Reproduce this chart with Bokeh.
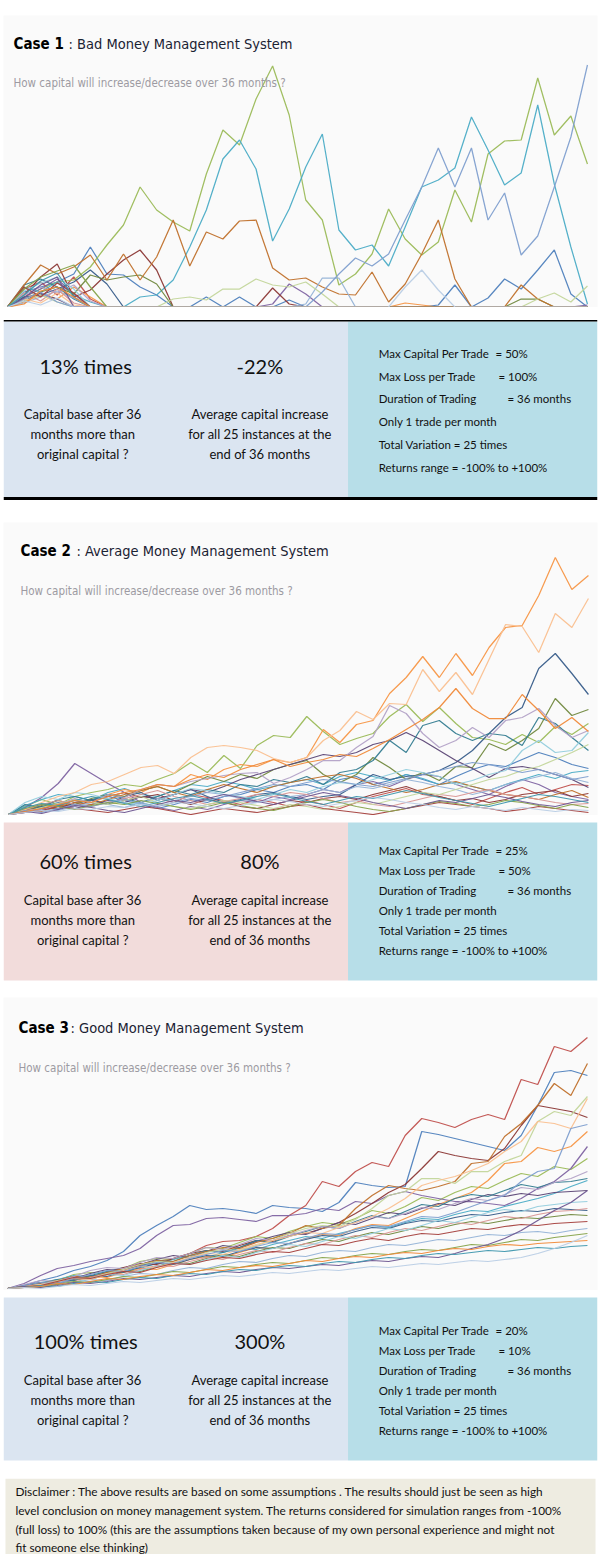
from bokeh.plotting import figure
from bokeh.layouts import column
from bokeh.models import Range1d, Spacer, ColumnDataSource
from bokeh.core.properties import value
from bokeh.embed import file_html
from bokeh.resources import INLINE

# ---------------- data ----------------
months = list(range(1, 37))

colors = ["#4f81bd", "#c0504d", "#9bbb59", "#8064a2", "#4bacc6", "#f79646",
          "#385d8a", "#8c3836", "#71893f", "#5c4776", "#357d91", "#c0712c",
          "#95b3d7", "#d99694", "#c3d69b", "#b3a2c7", "#93cddd", "#fac090",
          "#7f9fcf", "#a5403d", "#86a34a", "#6e5691", "#3f97ae", "#f08a3a", "#b9cde5"]

# Case 1 : capital paths (height above starting level, chart units)
case1_runs = [
    [0,15,20,25,33,60,33,32,20,12,0,0,10,0,10,0,0,7,0,0,0,0,0,0,0,0,2,22,0,9,28,18,37,57,13,0],
    [0,18,25,12,30,8,0,0,0,0,0,0,0,0,0,0,0,0,0,0,0,0,0,0,0,0,0,0,0,0,0,0,0,0,0,0],
    [0,10,18,25,27,40,62,82,120,97,85,76,133,177,162,208,241,192,107,87,22,33,53,98,68,52,65,117,85,153,166,167,229,172,191,143],
    [0,10,18,28,13,0,0,0,0,0,0,0,0,0,0,0,3,23,13,0,0,0,0,0,0,0,0,0,0,0,0,0,0,0,0,2],
    [0,20,15,25,12,5,0,0,10,12,27,60,97,148,167,138,66,98,140,173,77,57,62,41,80,120,127,139,190,157,122,134,202,123,60,3],
    [0,5,12,8,20,10,0,0,0,0,0,0,0,0,0,0,0,0,0,0,0,0,0,0,4,2,0,0,0,0,0,0,0,0,0,0],
    [0,10,12,18,25,37,23,0,0,0,0,0,0,0,0,0,0,0,0,0,0,0,0,0,0,0,0,0,0,0,0,0,0,0,0,0],
    [0,12,30,43,10,17,33,47,57,37,0,0,0,0,0,0,19,3,0,0,0,0,0,0,0,0,0,0,0,0,0,0,0,0,0,0],
    [0,8,15,20,13,32,27,30,32,23,0,0,0,0,0,0,0,0,0,0,0,0,0,0,0,0,0,0,0,0,0,8,8,0,0,0],
    [0,6,14,8,0,0,0,0,0,0,0,0,0,0,0,0,0,0,0,0,0,0,0,0,0,0,0,0,0,0,0,0,0,0,0,0],
    [0,22,28,20,8,0,0,0,0,0,0,0,0,0,0,0,0,0,0,0,0,0,0,0,0,0,0,0,0,0,0,0,0,0,0,0],
    [0,22,42,33,40,52,27,53,27,50,87,41,75,68,86,87,39,27,29,20,13,12,35,5,23,53,87,28,0,0,0,22,8,0,0,0],
    [0,4,10,16,9,0,0,0,0,0,0,0,0,0,0,0,0,0,3,29,29,0,0,0,0,0,0,0,0,0,0,0,0,0,0,0],
    [0,14,6,18,4,0,0,0,0,0,0,0,0,0,0,0,0,0,0,0,0,0,0,0,0,0,0,0,0,0,0,0,0,0,0,0],
    [0,6,12,5,0,0,0,0,0,0,8,10,7,18,18,28,22,20,25,13,0,0,0,0,0,0,0,0,0,0,0,0,8,14,5,21],
    [0,12,20,14,22,6,0,0,0,0,0,0,0,0,0,0,0,0,0,0,0,0,0,0,0,0,0,0,0,0,0,0,0,0,0,0],
    [0,16,24,30,18,0,0,0,0,0,0,0,0,0,0,0,0,0,0,0,0,0,0,0,0,0,0,0,0,0,0,0,0,0,0,0],
    [0,8,4,14,2,0,0,0,0,0,0,0,0,0,0,0,0,0,0,0,0,0,0,0,0,0,0,0,0,0,0,0,0,0,0,0],
    [0,8,15,5,0,0,0,0,0,0,0,0,0,0,0,0,0,0,0,15,33,49,41,53,87,120,159,120,159,87,114,52,71,120,170,242],
    [0,20,10,24,14,0,0,0,0,0,0,0,0,0,0,0,0,0,0,0,0,0,0,0,0,0,0,0,0,0,0,0,0,0,0,0],
    [0,18,30,36,42,20,0,0,0,0,0,0,0,0,0,0,0,0,0,0,0,0,0,0,0,0,0,0,0,0,0,0,0,0,0,0],
    [0,9,22,30,0,0,0,0,0,0,0,0,0,0,0,0,0,0,0,0,0,0,0,0,0,0,0,0,0,0,0,0,0,0,0,0],
    [0,12,26,34,10,0,0,0,0,0,0,0,0,0,0,0,0,0,0,0,0,0,0,0,0,0,0,0,0,0,0,0,0,0,0,0],
    [0,3,16,20,10,0,0,0,0,0,0,0,0,0,0,0,0,0,0,0,0,0,0,0,0,0,0,0,0,0,0,0,0,0,0,0],
    [0,6,2,9,0,0,0,0,0,0,0,0,0,0,0,0,0,0,0,0,0,0,0,0,20,37,17,0,0,0,0,0,0,0,0,0],
]

# Case 2
case2_runs = [
    [0,5,8,12,10,15,18,14,10,6,10,15,12,18,20,25,22,28,30,25,35,38,30,34,40,35,30,38,45,50,48,55,62,57,50,46],
    [0,4,8,6,12,15,10,14,18,16,12,20,17,14,10,15,12,8,14,10,6,12,18,22,26,20,18,14,10,16,22,27,20,25,30,29],
    [0,8,15,10,18,22,25,30,28,35,41,52,42,59,46,69,79,77,98,83,70,76,81,98,110,93,107,91,77,75,70,80,72,88,80,91],
    [0,7,17,31,51,41,31,22,12,7,4,8,5,10,14,12,18,15,20,25,22,30,33,28,35,40,38,30,25,20,28,35,30,22,18,15],
    [0,9,15,20,18,14,22,26,20,18,24,30,28,33,30,25,28,32,35,30,38,42,38,34,40,36,30,32,28,24,30,35,40,36,42,44],
    [0,5,10,8,15,12,20,25,22,30,28,40,35,45,50,48,55,52,57,85,72,90,94,121,137,158,137,161,139,167,187,189,219,257,225,239],
    [0,3,8,5,12,15,10,18,22,14,20,25,18,12,15,20,22,18,15,18,20,30,40,35,38,40,44,52,64,81,97,107,146,161,141,120],
    [0,3,6,10,8,14,18,22,17,20,14,10,15,12,8,6,10,14,12,16,18,15,20,24,28,22,18,14,16,12,15,20,22,24,18,21],
    [0,4,9,14,10,16,20,18,24,28,22,30,38,33,40,36,45,50,54,40,32,40,57,47,35,42,34,48,47,71,64,74,86,116,99,105],
    [0,2,5,9,6,10,14,12,18,16,20,25,22,28,35,40,45,50,55,60,58,62,70,74,82,74,64,54,46,37,46,48,45,40,35,27],
    [0,10,7,15,18,14,20,16,12,18,24,20,25,22,30,28,35,32,38,30,42,45,54,74,62,89,94,81,74,81,79,69,97,91,77,64],
    [0,6,3,8,12,10,15,20,24,28,22,18,25,30,26,22,28,32,35,38,40,36,30,26,22,25,30,33,28,24,20,18,15,20,24,17],
    [0,2,5,4,8,12,10,7,12,16,14,18,22,20,16,12,15,18,20,25,22,28,26,30,35,32,28,25,20,24,30,34,38,42,36,32],
    [0,5,10,14,10,8,12,16,20,24,18,14,10,13,16,20,18,22,20,16,12,14,10,8,12,16,20,18,22,25,20,18,15,12,10,11],
    [0,3,7,11,15,12,10,14,18,12,8,6,10,14,12,9,6,10,8,5,8,12,10,14,18,22,20,25,30,35,38,44,48,55,62,70],
    [0,6,4,10,16,12,20,17,25,30,28,33,36,39,41,42,31,37,45,54,54,67,78,109,101,81,67,74,87,77,94,97,106,89,77,84],
    [0,12,18,15,22,20,16,12,10,14,20,26,24,20,18,15,20,25,22,28,32,30,35,40,45,42,38,30,34,40,44,64,74,62,64,82],
    [0,5,12,18,22,30,33,40,47,49,41,57,67,69,67,64,56,52,57,74,84,103,95,111,110,145,123,142,120,155,190,188,162,201,187,216],
    [0,4,2,6,10,8,12,15,11,8,12,16,14,18,22,26,30,28,32,35,33,30,28,32,36,40,44,48,52,50,46,42,45,40,35,38],
    [0,2,4,8,6,4,2,5,8,6,3,0,3,6,4,2,5,8,10,6,4,2,0,3,6,9,12,10,8,6,3,5,8,6,4,2],
    [0,6,10,8,5,9,12,10,14,11,8,5,8,12,9,6,4,8,12,15,12,8,5,3,6,10,13,11,8,10,14,12,9,6,10,7],
    [0,3,1,5,9,7,4,2,6,10,14,12,16,20,17,13,10,14,18,22,19,16,12,9,6,10,14,12,16,20,17,13,10,8,12,14],
    [0,7,11,9,14,18,15,11,8,12,16,19,15,11,14,18,21,17,13,10,14,18,16,20,24,21,17,14,11,8,12,16,20,18,15,12],
    [0,3,6,10,14,12,18,22,25,30,28,35,40,37,45,50,55,48,52,55,60,58,66,75,85,95,107,126,106,96,96,120,104,86,97,83],
    [0,2,4,3,6,5,8,7,10,9,12,11,8,6,9,12,15,13,10,8,11,14,17,15,12,10,7,5,8,6,4,7,5,3,5,4],
]

# Case 3
case3_runs = [
    [0,3,8,12,18,22,28,37,53,63,72,83,79,80,78,75,83,81,80,77,86,106,103,101,102,157,154,150,146,142,138,153,183,216,218,213],
    [0,2,4,6,8,11,14,18,23,27,30,35,43,47,48,52,60,73,83,107,102,117,126,122,153,170,166,161,169,174,169,209,204,242,237,251],
    [0,3,5,8,14,16,15,20,27,30,29,35,41,40,46,52,50,57,62,66,64,70,78,75,82,91,88,96,102,100,108,115,112,122,119,130],
    [0,5,13,20,23,27,30,33,40,53,63,64,70,71,69,67,73,73,75,80,78,87,85,93,97,93,90,87,87,85,83,90,100,107,120,142],
    [0,3,6,9,13,12,17,21,20,25,29,33,31,36,40,39,44,48,52,50,55,59,63,61,66,70,69,74,78,77,82,86,90,95,102,108],
    [0,1,4,6,9,12,11,16,20,19,24,29,32,31,36,41,40,45,50,54,53,60,64,63,70,77,84,90,96,108,125,127,141,137,142,157],
    [0,2,5,4,9,13,12,17,21,25,24,29,33,32,37,41,40,45,49,53,52,57,61,60,65,68,67,71,74,73,76,78,77,80,79,78],
    [0,2,5,8,12,11,16,21,25,24,30,35,38,37,43,48,47,53,55,60,66,75,85,96,104,120,137,133,130,128,140,163,183,180,177,171],
    [0,3,2,6,10,9,14,18,17,22,26,25,30,34,32,37,41,40,45,49,47,52,56,54,58,62,60,64,67,65,68,71,70,72,74,73],
    [0,3,6,5,10,15,19,18,24,29,33,31,37,43,41,47,52,56,54,60,66,64,70,76,74,80,85,83,89,94,92,95,93,96,97,98],
    [0,2,5,9,8,13,17,16,22,28,27,33,38,36,41,48,46,52,57,62,60,67,73,70,77,84,82,90,94,92,98,104,101,106,107,110],
    [0,2,5,8,12,11,16,20,24,28,27,33,37,41,40,46,50,55,63,60,63,80,93,103,100,98,102,107,125,127,152,165,183,205,193,225],
    [0,1,3,2,6,9,8,12,15,14,18,21,20,24,27,26,30,33,32,36,38,37,41,44,43,46,49,48,51,54,53,56,57,55,58,60],
    [0,1,4,7,6,11,15,14,19,23,22,27,31,29,34,38,36,41,45,44,49,53,51,56,60,58,62,66,64,68,72,70,74,77,78,80],
    [0,2,4,8,11,10,15,19,24,27,26,31,36,39,38,43,48,55,60,63,62,69,80,93,97,110,110,105,117,117,127,133,167,177,173,192],
    [0,4,8,7,12,18,21,20,26,31,30,35,41,39,44,50,48,53,58,62,60,66,72,70,75,81,79,85,90,88,94,101,99,106,110,117],
    [0,2,4,7,6,10,14,13,18,22,25,24,29,33,31,36,40,44,42,47,52,50,55,60,58,63,68,66,71,76,79,77,82,84,86,87],
    [0,2,4,7,10,9,14,18,22,21,26,31,35,34,39,44,48,52,56,55,61,66,72,80,90,103,108,112,118,125,137,147,167,165,160,190],
    [0,3,6,5,10,14,18,17,22,26,25,30,34,38,37,42,46,45,50,55,54,59,63,62,67,72,71,76,82,88,93,107,117,120,160,164],
    [0,2,3,7,11,10,14,17,16,21,25,24,28,31,30,34,37,36,40,44,43,47,50,48,52,55,54,57,60,59,62,64,63,65,66,67],
    [0,2,1,4,7,6,9,12,11,14,17,16,19,22,21,24,26,25,28,31,30,33,35,34,37,39,38,41,44,43,46,49,48,51,53,55],
    [0,2,1,3,6,5,7,10,9,11,13,12,15,17,16,19,21,20,22,24,23,26,28,27,30,32,31,35,40,44,50,58,68,78,86,98],
    [0,1,3,2,5,7,6,9,11,10,13,15,14,17,19,18,21,23,22,25,27,26,29,31,30,33,35,34,36,38,37,39,41,40,42,43],
    [0,1,2,5,4,7,10,9,12,14,13,16,19,18,21,23,22,25,28,27,30,32,31,34,36,35,38,40,39,42,44,43,45,46,47,48],
    [0,1,0,2,4,3,5,7,6,8,10,9,11,13,12,14,16,15,17,19,18,20,22,21,23,25,24,26,28,27,29,31,35,40,46,53],
]

case_labels = ["Case 1", "Case 2", "Case 3"]
case_names = [": Bad Money Management System", ": Average Money Management System",
              ": Good Money Management System"]
question = "How capital will increase/decrease over 36 months ?"
times_more = ["13% times", "60% times", "100% times"]
avg_increase = ["-22%", "80%", "300%"]
max_capital = ["50%", "25%", "20%"]
max_loss = ["100%", "50%", "10%"]
desc_left = ["Capital base after 36", "months more than", "original capital ?"]
desc_mid = ["Average capital increase", "for all 25 instances at the", "end of 36 months"]
disclaimer = [
    "Disclaimer : The above results are based on some assumptions . The results should just be seen as high",
    "level conclusion on money management system. The returns considered for simulation ranges from -100%",
    "(full loss) to 100% (this are the assumptions taken because of my own personal experience and might not",
    "fit someone else thinking)",
]

# ---------------- styling ----------------
STEP = 16.57
TITLE_FONT = "DejaVu Sans Condensed, Roboto Condensed, Roboto"
BODY_FONT = "Lato"


def base_fig(width, height, xr, yr, bg, border="#ffffff"):
    p = figure(width=width, height=height, x_range=xr, y_range=yr,
               output_backend="svg", toolbar_location=None,
               x_axis_location=None, y_axis_location=None,
               min_border=0, min_border_left=0, min_border_right=0,
               min_border_top=0, min_border_bottom=0)
    p.background_fill_color = bg
    p.border_fill_color = border
    p.outline_line_color = None
    p.grid.visible = False
    return p


def chart(runs, x0, top, base, bottom, idx, tx, rx, ty, qx, qy):
    p = base_fig(600, bottom - top,
                 Range1d(1 + (3 - x0) / STEP, 1 + (597 - x0) / STEP),
                 Range1d(base - bottom, base - top), "#fafafa")
    p.min_border_left = 3
    p.min_border_right = 3
    src = ColumnDataSource(dict(xs=[months] * len(runs), ys=runs,
                                c=colors[:len(runs)]))
    p.multi_line("xs", "ys", source=src, line_color="c", line_width=1.25,
                 line_alpha=0.95)

    def fx(v):
        return 1 + (v - x0) / STEP

    def fy(v):
        return base - v

    p.text(x=[fx(tx)], y=[fy(ty)], text=[case_labels[idx]],
           text_font=value(TITLE_FONT), text_font_style="bold",
           text_font_size="15px", text_color="#000000", text_baseline="middle")
    p.text(x=[fx(rx)], y=[fy(ty)], text=[case_names[idx]],
           text_font=value(TITLE_FONT), text_font_size="14.5px",
           text_color="#1a2233", text_baseline="middle")
    p.text(x=[fx(qx)], y=[fy(qy)], text=[question],
           text_font=value(TITLE_FONT), text_font_size="11.5px",
           text_color="#9d9aa2", text_baseline="middle")
    return p


def stats(top, bottom, btop, bbot, left_col, idx, big_y, desc_y, list_y, rules):
    p = base_fig(600, bottom - top, Range1d(0, 600), Range1d(bottom, top), "#ffffff")
    p.quad(left=[0, 348], right=[348, 600], top=[btop, btop], bottom=[bbot, bbot],
           fill_color=[left_col, "#b7dee8"], line_color=None)
    if rules:
        p.quad(left=[0, 0], right=[600, 600], top=[btop - 1.5, bbot - 0.5],
               bottom=[btop, bbot + 2.5], fill_color="#000000", line_color=None)
    p.text(x=[83, 259], y=[big_y, big_y], text=[times_more[idx], avg_increase[idx]],
           text_font=value(BODY_FONT), text_font_size="20px", text_color="#111111",
           text_align="center", text_baseline="middle")
    p.text(x=[80] * 3 + [259] * 3, y=desc_y + desc_y, text=desc_left + desc_mid,
           text_font=value(BODY_FONT), text_font_size="13px", text_color="#111111",
           text_align="center", text_baseline="middle")
    left_items = ["Max Capital Per Trade", "Max Loss per Trade", "Duration of Trading",
                  "Only 1 trade per month", "Total Variation = 25 times",
                  "Returns range = -100% to +100%"]
    p.text(x=[379] * 6, y=list_y, text=left_items,
           text_font=value(BODY_FONT), text_font_size="11.5px", text_color="#111111",
           text_align="left", text_baseline="middle")
    p.text(x=[497, 500, 509], y=list_y[:3],
           text=["= " + max_capital[idx], "= " + max_loss[idx], "= 36 months"],
           text_font=value(BODY_FONT), text_font_size="11.5px", text_color="#111111",
           text_align="left", text_baseline="middle")
    return p


c1 = chart(case1_runs, 7, 15, 306.5, 307, 0, 13, 68, 43, 13, 82)
s1 = stats(307, 522, 321, 497, "#dbe5f1", 0, 365, [413, 433, 453],
           [353, 376, 398, 421, 444, 467], True)
c2 = chart(case2_runs, 8, 522, 814, 815, 1, 20, 76, 550, 20, 590)
s2 = stats(815, 997, 822, 980, "#f2dcdb", 1, 860, [899, 919, 939],
           [850, 870, 890, 910, 930, 950], False)
c3 = chart(case3_runs, 7, 997, 1288, 1290, 2, 18, 70, 1027, 18, 1067)
s3 = stats(1290, 1478, 1297, 1460, "#dbe5f1", 2, 1340, [1379, 1399, 1419],
           [1330, 1350, 1370, 1390, 1410, 1430], False)

d = base_fig(600, 76, Range1d(0, 600), Range1d(1554, 1478), "#ffffff")
d.quad(left=[2], right=[598], top=[1478], bottom=[1554], fill_color="#eeece1",
       line_color=None)
d.text(x=[12] * 4, y=[1491, 1510, 1529, 1547], text=disclaimer,
       text_font=value(BODY_FONT), text_font_size="11.8px", text_color="#111111",
       text_align="left", text_baseline="middle")

layout = column(Spacer(width=600, height=15), c1, s1, c2, s2, c3, s3, d, spacing=0)

open("out.html", "w").write(file_html(layout, INLINE))
